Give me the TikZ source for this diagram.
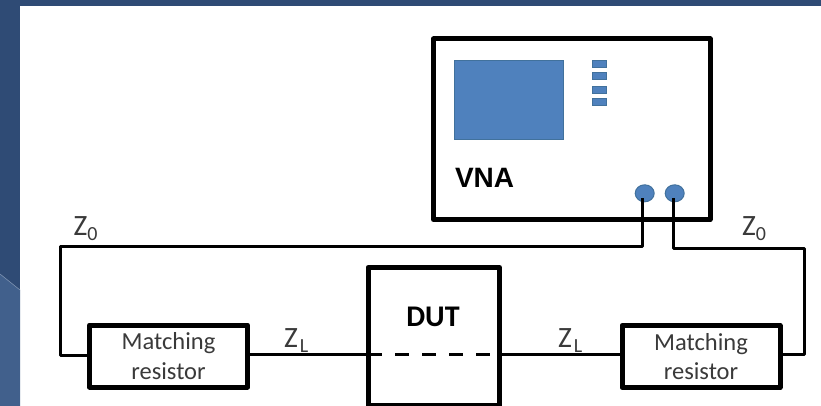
\documentclass[tikz,border=0pt]{standalone}
\usepackage{fontspec}
\setmainfont{Carlito}
\newfontfamily\arialf{Liberation Sans}
\usetikzlibrary{shapes.geometric}
\definecolor{bgdark}{HTML}{2F4B75}
\definecolor{bglight}{HTML}{41608C}
\definecolor{bluefill}{HTML}{4F81BD}
\definecolor{blueedge}{HTML}{41719C}
\definecolor{txtgray}{HTML}{3A3A3A}
\newcommand{\zsub}[2]{Z\kern#2pt\raisebox{-5.5pt}{\fontsize{20}{20}\selectfont #1}}
\tikzset{
  heavybox/.style={draw=black,line width=5pt,fill=white,inner sep=0pt,outer sep=0pt,line join=round},
  matchbox/.style={heavybox,minimum width=158pt,minimum height=62pt,align=center,text=txtgray,font=\fontsize{24.5}{29.5}\selectfont},
  wire/.style={draw=black,line width=3pt,line join=round},
  btn/.style={rectangle,draw=blueedge,fill=bluefill,line width=1pt,minimum width=13.5pt,minimum height=7pt,inner sep=0pt,outer sep=0pt},
  port/.style={ellipse,draw=blueedge,fill=bluefill,line width=1pt,minimum width=19pt,minimum height=17pt,inner sep=0pt,outer sep=0pt},
  zlabel/.style={inner sep=0pt,outer sep=0pt,text=txtgray,font=\fontsize{29.5}{32}\selectfont},
}
\begin{document}
\begin{tikzpicture}[x=1pt,y=-1pt]
\useasboundingbox (0,0) rectangle (821,406);
\fill[white] (0,0) rectangle (821,406);
\fill[bgdark] (0,0) rectangle (821,6);
\fill[bgdark] (0,0) rectangle (20,406);
\fill[bglight] (0,274) -- (20,290) -- (20,406) -- (0,406) -- cycle;
\draw[line width=0.6pt,color=bglight!70!white] (0,274) -- (20,290);
% instrument
\node[heavybox,minimum width=276.5pt,minimum height=180.5pt] (vna) at (571.75,129.25) {};
\node[rectangle,draw=blueedge,fill=bluefill,line width=1pt,minimum width=109pt,minimum height=79.5pt,inner sep=0pt,outer sep=0pt] (screen) at (509.25,100) {};
\node[btn] (b1) at (599.7,64) {};
\node[btn] (b2) at (599.7,76.2) {};
\node[btn] (b3) at (599.7,90.2) {};
\node[btn] (b4) at (599.7,102.2) {};
\node[anchor=base west,inner sep=0pt,outer sep=0pt,font=\arialf\bfseries\fontsize{28}{30}\selectfont] (vnatxt) at (455,188) {VNA};
\node[port] (p1) at (644.7,193.3) {};
\node[port] (p2) at (674.7,193.3) {};
% routing points
\coordinate (s1) at (642.7,198);
\coordinate (s2) at (673.3,198);
\coordinate (w1) at (60.5,246.7);
\coordinate (w2) at (804.3,248);
\coordinate (ml) at (60.5,355);
\coordinate (mr) at (804.3,354);
% wires under boxes
\draw[wire] (s1) |- (w1) -- (ml) -- (89,355);
\draw[wire] (s2) |- (w2) -- (mr) -- (780,354);
% DUT
\node[heavybox,minimum width=131.5pt,minimum height=137.5pt,anchor=north west] (dut) at (368,267.5) {};
\node[anchor=base,inner sep=0pt,outer sep=0pt,font=\bfseries\fontsize{30}{32}\selectfont] (duttxt) at (433,326) {DUT};
% matching resistors
\node[matchbox] (mL) at (168.5,356) {Matching\\resistor};
\node[matchbox] (mR) at (701,356.5) {Matching\\resistor};
\coordinate (dl) at (dut.west |- 0,354);
\coordinate (dr) at (dut.east |- 0,354);
\draw[wire] (mL.east |- dl) -- (dl);
\draw[wire] (dr) -- (mR.west |- dr);
\draw[wire,dash pattern=on 14pt off 13pt] (dl) -- (dr);
% labels
\node[zlabel,anchor=base west] (z0l) at (73.5,235) {\zsub{0}{0}};
\node[zlabel,anchor=base west] (z0r) at (742,235) {\zsub{0}{0}};
\node[zlabel,anchor=base west] (zll) at (284,347) {\zsub{L}{2}};
\node[zlabel,anchor=base west] (zlr) at (558,347) {\zsub{L}{2}};
\end{tikzpicture}
\end{document}
